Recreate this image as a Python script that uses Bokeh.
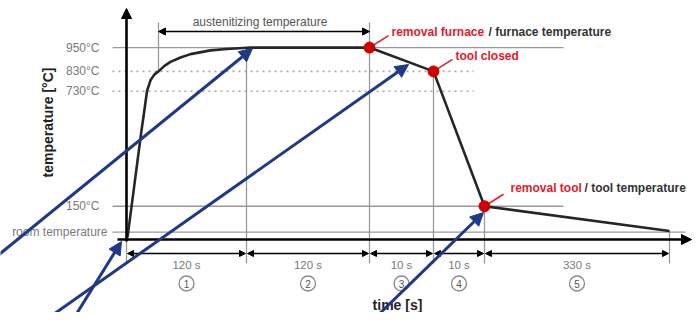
import numpy as np
from bokeh.plotting import figure
from bokeh.models import Arrow, NormalHead
from bokeh.core.properties import value
from bokeh.embed import file_html
from bokeh.resources import INLINE

# ---------------- data ----------------
level_temps = [950, 830, 730, 150, 20]
level_labels = ["950°C", "830°C", "730°C", "150°C", "room temperature"]
level_dotted = [False, True, True, False, False]

# schematic (not to scale) time positions of the phase boundaries
phase_edges = [0, 120, 243, 307, 358, 543]
phase_durations = ["120 s", "120 s", "10 s", "10 s", "330 s"]
phase_numbers = ["1", "2", "3", "4", "5"]

# heating curve in the furnace
heat_time = [1, 15, 17.5, 20.5, 24, 28, 32, 38, 44, 54, 64, 84, 100, 117, 124]
heat_temp = [-7, 533, 620, 730, 785, 815, 830, 858, 878, 900, 917, 936, 943, 948, 950]

# events (red dots)
event_time = [243, 307, 358]
event_temp = [950, 830, 150]
event_red = ["removal furnace", "tool closed", "removal tool"]
event_dark = ["/ furnace temperature", "", "/ tool temperature"]
end_time = 543
end_temp = 25

austenitizing_label = "austenitizing temperature"
austenitizing_temp = 830

# ---------------- layout helpers ----------------
W, H = 692, 312
ORIGIN_PX = 126                      # picture pixel of time 0
X_LO = -ORIGIN_PX
TPP = 5.042                          # degrees per pixel
T_TOP = 536 + 129.2 * TPP
T_BOT = T_TOP - H * TPP


def U(px):
    return px - ORIGIN_PX


def T(py):
    return T_TOP - py * TPP


FONT = value("Liberation Sans")
GRID = "#9a9a9a"
CURVE = "#262626"
RED = "#e0202c"
DOT = "#cc0000"
NAVY = "#1e3a86"
LABEL = "#7a7a7a"

p = figure(width=W, height=H, x_range=(X_LO, X_LO + W), y_range=(T_BOT, T_TOP),
           output_backend="svg", toolbar_location=None, min_border=0,
           background_fill_color="white", border_fill_color="white")
p.axis.visible = False
p.grid.visible = False
p.outline_line_color = None

curve_t = heat_time + event_time + [end_time]
curve_T = heat_temp + event_temp + [end_temp]

# ---- level lines ----
level_end = [U(563), U(473), U(473), U(563), U(685)]
for i, temp in enumerate(level_temps):
    p.segment(x0=[U(112)], x1=[level_end[i]], y0=[temp], y1=[temp],
              line_color=GRID if not level_dotted[i] else "#a8a8a8",
              line_width=1.3 if not level_dotted[i] else 1.6,
              line_dash="dotted" if level_dotted[i] else "solid")

# tick labels
lab_x = [U(99)] * 4 + [U(107)]
p.text(x=lab_x, y=level_temps, text=level_labels, text_font=FONT,
       text_font_size="12px", text_color=LABEL, text_align="right",
       text_baseline="middle")

# ---- austenitizing span ----
aus_start = float(np.interp(austenitizing_temp, heat_temp, heat_time))
aus_end = phase_edges[2]
aus_y = T(31)
p.segment(x0=[aus_start], x1=[aus_start], y0=[T(22)], y1=[austenitizing_temp],
          line_color=GRID, line_width=1.3)
p.add_layout(Arrow(start=NormalHead(size=7, fill_color="black", line_color="black"),
                   end=NormalHead(size=7, fill_color="black", line_color="black"),
                   x_start=aus_start, y_start=aus_y, x_end=aus_end, y_end=aus_y,
                   line_color="black", line_width=1.5))
p.text(x=[(aus_start + aus_end) / 2 - 4], y=[T(21)], text=[austenitizing_label],
       text_font=FONT, text_font_size="12px", text_color="#555555",
       text_align="center", text_baseline="middle")

# ---- vertical boundary lines ----
edge_top = [float(np.interp(e, curve_t, curve_T)) for e in phase_edges]
edge_top[0] = T(239)
edge_top[2] = T(22)
p.segment(x0=phase_edges, x1=phase_edges, y0=edge_top, y1=[T(263)] * len(phase_edges),
          line_color=GRID, line_width=1.3)

# ---- axes ----
p.add_layout(Arrow(end=NormalHead(size=10, fill_color="black", line_color="black"),
                   x_start=0, y_start=T(241), x_end=0, y_end=T(8),
                   line_color="black", line_width=2.6))
p.add_layout(Arrow(end=NormalHead(size=10, fill_color="black", line_color="black"),
                   x_start=U(117), y_start=T(239), x_end=U(691), y_end=T(239),
                   line_color="black", line_width=2.6))

# ---- process curve ----
p.line(x=curve_t, y=curve_T, line_color=CURVE, line_width=2.6, line_join="round")

# ---- events ----
dx_lead, dy_lead = 19, 12 * TPP
p.segment(x0=event_time, y0=event_temp,
          x1=[t + dx_lead for t in event_time], y1=[v + dy_lead for v in event_temp],
          line_color=RED, line_width=1.6)
p.scatter(x=event_time, y=event_temp, size=11, fill_color=DOT, line_color=DOT)

red_dx = [22, 22, 26]
red_dy = [16, 15, 18]
dark_x = [U(488), None, U(584)]
for i in range(3):
    ty = event_temp[i] + red_dy[i] * TPP
    p.text(x=[event_time[i] + red_dx[i]], y=[ty], text=[event_red[i]], text_font=FONT,
           text_font_size="12px", text_font_style="bold", text_color=RED,
           text_align="left", text_baseline="middle")
    if event_dark[i]:
        p.text(x=[dark_x[i]], y=[ty], text=[event_dark[i]], text_font=FONT,
               text_font_size="12px", text_font_style="bold", text_color="#333333",
               text_align="left", text_baseline="middle")

# ---- dimension arrows under the axis ----
dim_y = T(253)
for a, b in zip(phase_edges[:-1], phase_edges[1:]):
    p.add_layout(Arrow(start=NormalHead(size=6, fill_color="black", line_color="black"),
                       end=NormalHead(size=6, fill_color="black", line_color="black"),
                       x_start=a + 1, y_start=dim_y, x_end=b - 1, y_end=dim_y,
                       line_color="black", line_width=1.5))
mids = [(a + b) / 2 for a, b in zip(phase_edges[:-1], phase_edges[1:])]
p.text(x=mids, y=[T(264)] * 5, text=phase_durations, text_font=FONT,
       text_font_size="11.5px", text_color=LABEL, text_align="center",
       text_baseline="middle")
p.scatter(x=mids, y=[T(283)] * 5, size=15, marker="circle", fill_color="white",
          line_color="#8a8a8a", line_width=1.3)
p.text(x=mids, y=[T(283)] * 5, text=phase_numbers, text_font=FONT,
       text_font_size="10px", text_color="#555555", text_align="center",
       text_baseline="middle")

# ---- axis titles ----
p.text(x=[U(47)], y=[T(122)], text=["temperature [°C]"], angle=np.pi / 2,
       text_font=FONT, text_font_size="14px", text_font_style="bold",
       text_color="#222222", text_align="center", text_baseline="middle")
p.text(x=[U(397)], y=[T(304)], text=["time [s]"], text_font=FONT,
       text_font_size="14px", text_font_style="bold", text_color="#222222",
       text_align="center", text_baseline="middle")

# ---- overlay pointer arrows ----
pointers = [((-10, 261), (252, 48)),
            ((40, 323), (408, 64)),
            ((70, 323), (121, 241)),
            ((370, 322), (483, 212))]
for (x0, y0), (x1, y1) in pointers:
    p.add_layout(Arrow(end=NormalHead(size=13, fill_color=NAVY, line_color=NAVY),
                       x_start=U(x0), y_start=T(y0), x_end=U(x1), y_end=T(y1),
                       line_color=NAVY, line_width=3))

open("out.html", "w").write(file_html(p, INLINE))
